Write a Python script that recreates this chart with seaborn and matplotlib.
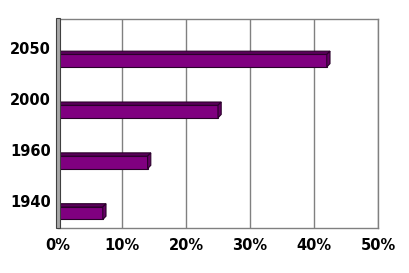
import matplotlib
matplotlib.use("Agg")
import matplotlib.pyplot as plt
import seaborn as sns
import pandas as pd
from matplotlib.patches import Polygon, Rectangle
from matplotlib.ticker import FuncFormatter, FixedLocator

years = ["2050", "2000", "1960", "1940"]
shares = [0.42, 0.25, 0.14, 0.07]
xticks = [0.0, 0.1, 0.2, 0.3, 0.4, 0.5]

df = pd.DataFrame({"year": years, "share": shares})

sns.set_style("white")
plt.rcParams["font.family"] = ["DejaVu Sans"]
plt.rcParams["text.color"] = "black"
plt.rcParams["xtick.color"] = "black"
plt.rcParams["ytick.color"] = "black"

W, H = 410, 273
fig = plt.figure(figsize=(W / 100, H / 100), dpi=100)
ax = fig.add_axes([58 / W, 1 - 228 / H, 320 / W, 209 / H])

sns.barplot(data=df, x="share", y="year", order=years, orient="h",
            color="#800080", edgecolor="#2a002a", linewidth=0.8,
            width=0.245, saturation=1, ax=ax, zorder=3)

ax.set_xlim(0, 0.5)
ax.set_ylim(3.29, -0.82)

# 3D depth faces derived from the drawn bars
dx = 0.005
dy = 0.065
for p in ax.patches:
    x0 = p.get_x()
    w = p.get_width()
    y = p.get_y()
    h = p.get_height()
    ytop = min(y, y + h)
    ybot = max(y, y + h)
    top = Polygon([(x0, ytop), (x0 + dx, ytop - dy), (x0 + w + dx, ytop - dy), (x0 + w, ytop)],
                  closed=True, facecolor="#5a005a", edgecolor="#2a002a", linewidth=0.8, zorder=4)
    side = Polygon([(x0 + w, ytop), (x0 + w + dx, ytop - dy), (x0 + w + dx, ybot - dy), (x0 + w, ybot)],
                   closed=True, facecolor="#660066", edgecolor="#2a002a", linewidth=0.8, zorder=4)
    ax.add_patch(top)
    ax.add_patch(side)

# grid (back wall)
ax.xaxis.set_major_locator(FixedLocator(xticks))
ax.xaxis.set_major_formatter(FuncFormatter(lambda v, _: f"{int(round(v * 100))}%"))
ax.grid(axis="x", color="#808080", linewidth=1.0, zorder=0)
ax.grid(axis="y", visible=False)

for s in ["top", "right"]:
    ax.spines[s].set_visible(True)
    ax.spines[s].set_color("#808080")
    ax.spines[s].set_linewidth(1.0)
ax.spines["bottom"].set_color("#808080")
ax.spines["bottom"].set_linewidth(1.0)
ax.spines["left"].set_color("#404040")
ax.spines["left"].set_linewidth(1.2)

# y labels (slightly above bar centres), boundary ticks
ax.set_yticks([i - 0.25 for i in range(len(years))])
ax.set_yticklabels(years)
ax.set_yticks([i - 0.75 for i in range(len(years) + 1)], minor=True)
ax.tick_params(axis="y", which="major", length=0, pad=5, labelsize=10.5, labelcolor="black")
ax.tick_params(axis="y", which="minor", length=4, color="#404040", width=1, direction="out")
ax.tick_params(axis="x", which="major", length=4, color="#404040", width=1, direction="out",
               pad=3, labelsize=10.5, labelcolor="black")
for t in ax.get_xticklabels() + ax.get_yticklabels():
    t.set_fontweight("bold")

ax.set_xlabel("")
ax.set_ylabel("")

# left side wall
fig.add_artist(Rectangle((56 / W, 1 - 228 / H), 4 / W, 210 / H, transform=fig.transFigure,
                         facecolor="#a8a8a8", edgecolor="#404040", linewidth=0.8, zorder=1))

fig.savefig("out.png", dpi=100)
